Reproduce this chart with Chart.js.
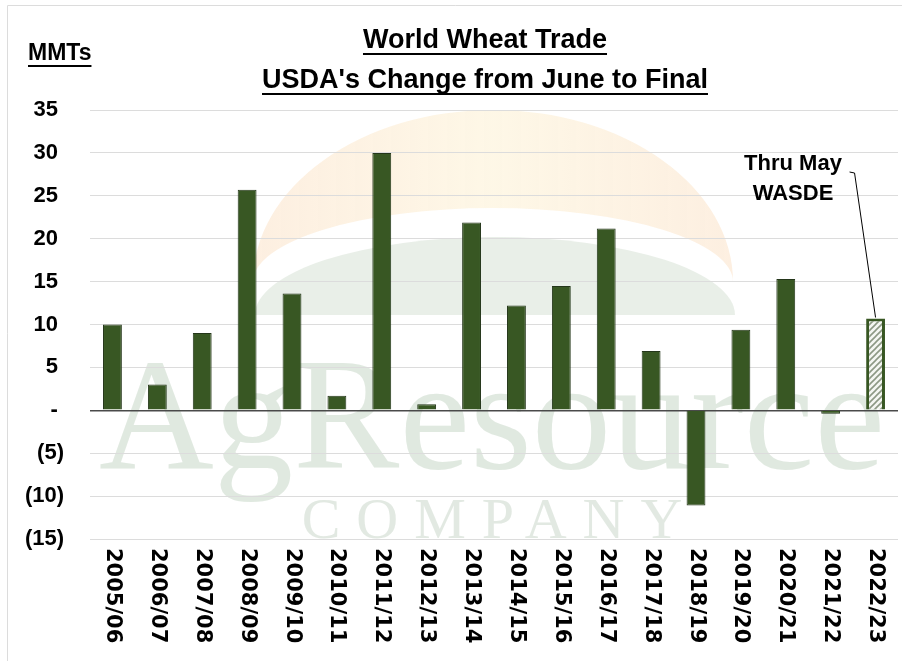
<!DOCTYPE html>
<html>
<head>
<meta charset="utf-8">
<script src="https://cdn.jsdelivr.net/npm/chart.js@4.4.0/dist/chart.umd.min.js"></script>
<style>
  html, body { margin: 0; padding: 0; background: #fff; }
  #wrap { width: 902px; height: 661px; }
</style>
</head>
<body>
<div id="wrap"><canvas id="Chart" width="902" height="661"></canvas></div>
<script>
// marketing years and USDA change (MMT) from June estimate to final
const categories = ['2005/06', '2006/07', '2007/08', '2008/09', '2009/10', '2010/11', '2011/12', '2012/13', '2013/14',
    '2014/15', '2015/16', '2016/17', '2017/18', '2018/19', '2019/20', '2020/21', '2021/22', '2022/23'];
const changeValues = [10.0, 3.0, 9.0, 25.7, 13.6, 1.7, 30.0, 0.7, 21.9, 12.2, 14.5, 21.2, 6.9, -11.1, 9.4, 15.3, -0.4, 10.7];
const yMin = -15;
const yMax = 35;
const yStep = 5;
const titleLines = ['World Wheat Trade', "USDA's Change from June to Final"];
const unitLabel = 'MMTs';
const noteLines = ['Thru May', 'WASDE'];

const ctx = document.getElementById('Chart').getContext('2d');
const green = '#385723';
const boldFont = "'Liberation Sans', Arial, sans-serif";

// hatch for the partial year
function hatch() {
    const p = document.createElement('canvas');
    p.width = 6; p.height = 6;
    const c = p.getContext('2d');
    c.fillStyle = '#f4f6f2';
    c.fillRect(0, 0, 6, 6);
    c.strokeStyle = '#8c9884';
    c.lineWidth = 1.6;
    c.beginPath();
    c.moveTo(-1, 7); c.lineTo(7, -1);
    c.moveTo(-1, 1); c.lineTo(1, -1);
    c.moveTo(5, 7); c.lineTo(7, 5);
    c.stroke();
    return ctx.createPattern(p, 'repeat');
}

const fills = changeValues.map((v, i) => i == changeValues.length - 1 ? hatch() : green);
const borders = changeValues.map((v, i) => i == changeValues.length - 1 ? green : '#24361a');
const borderWidths = changeValues.map((v, i) => i == changeValues.length - 1 ? 3 : 1);

function underlined(c, text, x, y, font, align) {
    c.font = font;
    c.textAlign = align;
    c.textBaseline = 'alphabetic';
    c.fillText(text, x, y);
    const w = c.measureText(text).width;
    const x0 = align == 'center' ? x - w / 2 : x;
    c.fillRect(x0, y + 5, w, 2);
}

const decor = {
    id: 'decor',
    beforeDraw(chart) {
        const c = chart.ctx;
        c.save();
        // frame
        c.strokeStyle = '#dcdcdc';
        c.lineWidth = 1;
        c.beginPath();
        c.moveTo(7.5, 700); c.lineTo(7.5, 5.5); c.lineTo(910, 5.5);
        c.stroke();
        // faint logo watermark: sun crescent
        const g = c.createLinearGradient(253, 0, 733, 0);
        g.addColorStop(0, 'rgba(251,226,200,0.55)');
        g.addColorStop(0.5, 'rgba(253,242,214,0.6)');
        g.addColorStop(1, 'rgba(251,226,200,0.55)');
        c.fillStyle = g;
        c.beginPath();
        c.ellipse(493, 282, 240, 172, 0, Math.PI, 2 * Math.PI);
        c.ellipse(493, 282, 240, 74, 0, 2 * Math.PI, Math.PI, true);
        c.fill();
        // green hill
        c.fillStyle = 'rgba(226,234,224,0.75)';
        c.beginPath();
        c.ellipse(495, 315, 240, 78, 0, Math.PI, 2 * Math.PI);
        c.fill();
        c.fillStyle = 'rgba(214,226,214,0.75)';
        c.font = "159px 'Liberation Serif', 'DejaVu Serif', serif";
        c.textAlign = 'center';
        c.textBaseline = 'alphabetic';
        c.fillText('AgResource', 492, 468);
        c.fillStyle = 'rgba(214,224,214,0.7)';
        c.font = "58px 'Liberation Serif', 'DejaVu Serif', serif";
        c.letterSpacing = '16px';
        c.fillText('COMPANY', 500, 538);
        c.restore();
    },
    afterDraw(chart) {
        const c = chart.ctx;
        const a = chart.chartArea;
        const xs = chart.scales.x;
        c.save();
        c.fillStyle = '#000';
        underlined(c, titleLines[0], 485, 48, 'bold 27px ' + boldFont, 'center');
        underlined(c, titleLines[1], 485, 88, 'bold 27px ' + boldFont, 'center');
        underlined(c, unitLabel, 28, 60, 'bold 23px ' + boldFont, 'left');
        // category labels, reading downward
        c.font = "bold 21px 'DejaVu Sans', sans-serif";
        c.textAlign = 'left';
        c.textBaseline = 'middle';
        categories.forEach((lab, i) => {
            c.save();
            c.translate(xs.getPixelForTick(i), a.bottom + 9);
            c.rotate(Math.PI / 2);
            c.fillText(lab, 0, 0);
            c.restore();
        });
        // note and leader line to last bar
        const bar = chart.getDatasetMeta(0).data[changeValues.length - 1];
        c.font = 'bold 22px ' + boldFont;
        c.textAlign = 'center';
        c.textBaseline = 'alphabetic';
        c.fillText(noteLines[0], 793, 170);
        c.fillText(noteLines[1], 793, 200);
        c.strokeStyle = '#000';
        c.lineWidth = 1;
        c.beginPath();
        c.moveTo(bar.x - 26, 172);
        c.lineTo(bar.x - 21, 173);
        c.lineTo(bar.x, bar.y - 1);
        c.stroke();
        c.restore();
    }
};

new Chart(ctx, {
    type: 'bar',
    data: {
        labels: categories,
        datasets: [{
            label: 'Change from June to Final',
            data: changeValues,
            backgroundColor: fills,
            borderColor: borders,
            borderWidth: borderWidths,
            categoryPercentage: 1,
            barPercentage: 0.42
        }]
    },
    options: {
        responsive: false,
        animation: false,
        layout: { padding: { top: 110, right: 4, bottom: 0, left: 0 } },
        plugins: {
            legend: { display: false },
            tooltip: { enabled: false }
        },
        scales: {
            x: {
                grid: { display: false },
                border: { display: false },
                ticks: { display: false },
                afterFit: (s) => { s.height = 122 }
            },
            y: {
                min: yMin,
                max: yMax,
                afterFit: (s) => { s.width = 90 },
                border: { display: false },
                grid: {
                    drawTicks: false,
                    color: (c) => c.tick && c.tick.value == 0 ? '#4a4a4a' : '#dcdcdc',
                    lineWidth: (c) => c.tick && c.tick.value == 0 ? 1.5 : 1
                },
                ticks: {
                    stepSize: yStep,
                    padding: 26,
                    color: '#000',
                    font: { family: boldFont, size: 22, weight: 'bold' },
                    callback: (v) => v < 0 ? '(' + (-v) + ')' : (v == 0 ? '- ' : v + ' ')
                }
            }
        }
    },
    plugins: [decor]
});
</script>
</body>
</html>
